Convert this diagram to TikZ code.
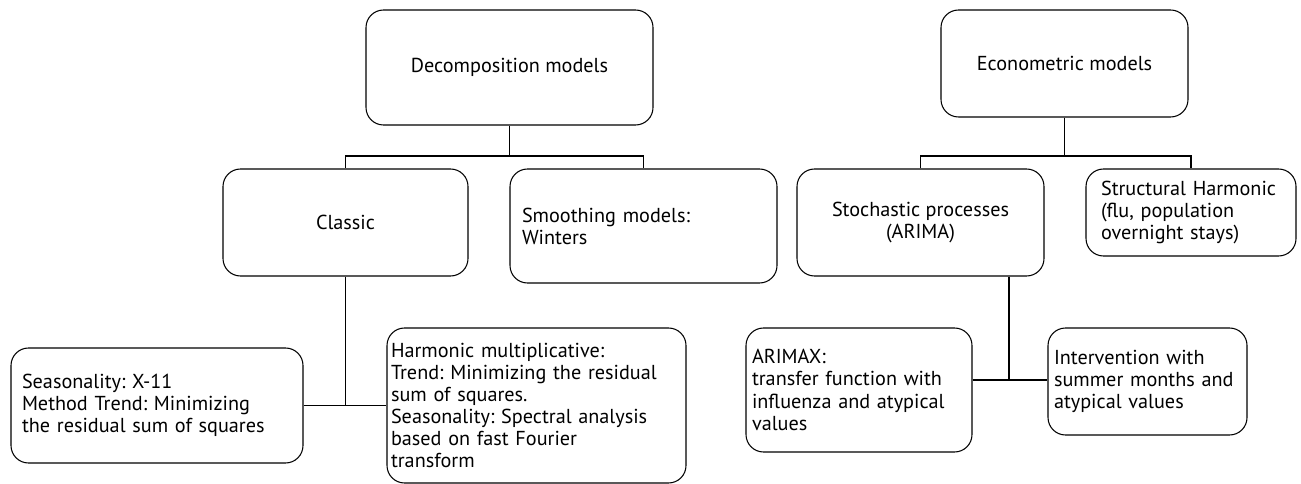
\documentclass[tikz,border=0pt]{standalone}
\usepackage{fontspec}
\setmainfont{PT Sans}
\usepackage{xcolor}
\usepackage{tikz}
\usetikzlibrary{positioning}
\frenchspacing
\tikzset{
    box/.style = {draw=black, rounded corners=0.35cm, line width=0.6pt, align=center, inner sep=0pt},
    lbox/.style = {box, align=left},
    link/.style = {-, line width=0.8pt},
}

\begin{document}
\begin{tikzpicture}[
    font=\fontsize{11.5}{12.6}\selectfont
]
\useasboundingbox (0,0) rectangle (26.02,-9.68);
\node[box, minimum width=5.74cm, minimum height=2.30cm] at (10.19,-1.35) (decomp) {Decomposition models};
\node[box, minimum width=4.94cm, minimum height=2.14cm] at (21.29,-1.27) (econ) {Econometric models};
\node[box, minimum width=4.90cm, minimum height=2.14cm] at (6.91,-4.45) (classic) {Classic};
\node[lbox, minimum width=5.34cm, minimum height=2.28cm, text width=4.86cm, inner xsep=0.24cm] at (12.87,-4.52) (smooth) {Smoothing models:\\Winters};
\node[box, minimum width=4.94cm, minimum height=2.14cm] at (18.41,-4.45) (stoch) {Stochastic processes\\(ARIMA)};
\node[lbox, minimum width=4.20cm, minimum height=1.74cm, text width=3.60cm, inner xsep=0.30cm] at (23.82,-4.25) (struct) {Structural Harmonic\\(flu, population\\overnight stays)};
\node[lbox, minimum width=5.84cm, minimum height=2.30cm, text width=5.40cm, inner xsep=0.22cm] at (3.14,-8.11) (seas) {Seasonality: X-11\\Method Trend: Minimizing\\the residual sum of squares};
\node[lbox, minimum width=5.98cm, minimum height=3.10cm, text width=5.82cm, inner xsep=0.08cm] at (10.73,-8.11) (harm) {Harmonic multiplicative:\\Trend: Minimizing the residual\\sum of squares.\\Seasonality: Spectral analysis\\based on fast Fourier\\transform};
\node[lbox, minimum width=4.52cm, minimum height=2.48cm, text width=4.28cm, inner xsep=0.12cm] at (17.18,-7.80) (arimax) {ARIMAX:\\transfer function with\\influenza and atypical\\values};
\node[lbox, minimum width=3.98cm, minimum height=2.14cm, text width=3.74cm, inner xsep=0.12cm] at (22.95,-7.63) (interv) {Intervention with\\summer months and\\atypical values};
\coordinate (dsplit) at (10.19,-3.12);
\coordinate (esplit) at (21.29,-3.12);
\coordinate (sjoin) at (20.18,-7.60);
\draw[link] (decomp.south) -- (dsplit);
\draw[link] (classic.north) |- (dsplit) -| (smooth.north);
\draw[link] (econ.south) -- (esplit);
\draw[link] (stoch.north) |- (esplit) -| (struct.north);
\draw[link] (classic.south) -- (classic.south |- seas.east);
\draw[link] (seas.east) -- (harm.west);
\draw[link] (stoch.south -| sjoin) -- (sjoin);
\draw[link] (arimax.east |- sjoin) -- (interv.west |- sjoin);
\end{tikzpicture}
\end{document}
